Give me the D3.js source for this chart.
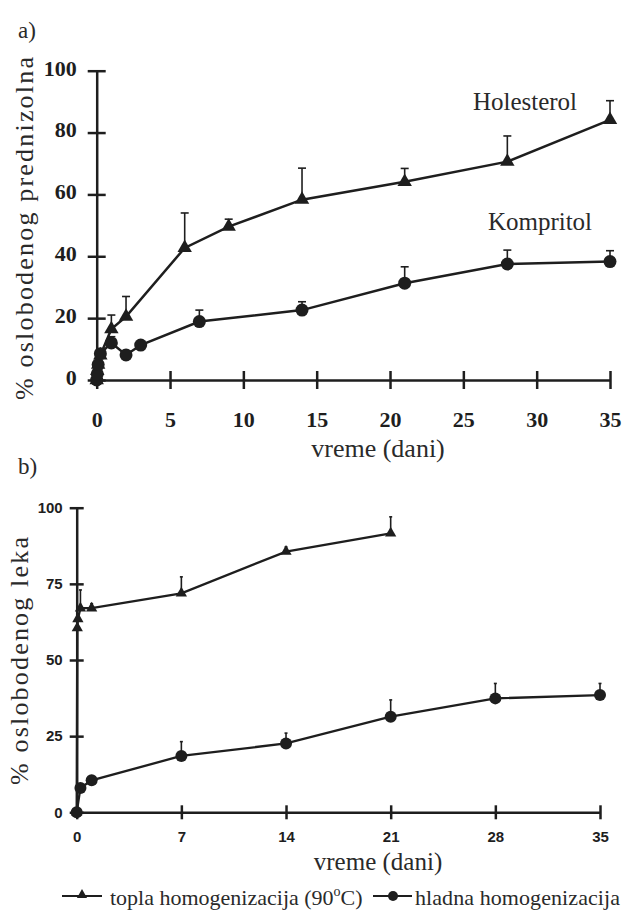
<!DOCTYPE html>
<html>
<head>
<meta charset="utf-8">
<script src="https://cdn.jsdelivr.net/npm/d3@7/dist/d3.min.js"></script>
<style>
  body { margin: 0; background: #fff; }
  svg { display: block; }
</style>
</head>
<body>
<svg width="624" height="920"></svg>
<script>
// ---- data ----

// panel a) holesterol (triangles) and kompritol (circles), days vs % released
var daysHol   = [0, 0.04, 0.1, 0.25, 1, 2, 6, 9, 14, 21, 28, 35];
var holMean   = [0, 3, 5, 8, 16.5, 20.5, 42.7, 49.6, 58.3, 64.1, 70.6, 84.1];
var holErr    = [0, 0, 0, 0, 4.5, 6.5, 11.3, 2.4, 10.2, 4.3, 8.3, 6.2];

var daysKomp  = [0, 0.04, 0.1, 0.25, 1, 2, 3, 7, 14, 21, 28, 35];
var kompMean  = [0, 2, 5, 8.5, 12, 8.1, 11.3, 18.9, 22.6, 31.3, 37.5, 38.3];
var kompErr   = [0, 0, 0, 0, 2, 0, 0, 3.7, 2.7, 5.3, 4.5, 3.5];

// panel b) topla (triangles) and hladna (circles) homogenizacija
var daysTopla = [0, 0.04, 0.08, 0.25, 1, 7, 14, 21];
var toplaMean = [0, 60.5, 63.5, 67, 67, 71.9, 85.6, 91.6];
var toplaErr  = [0, 0, 0, 6, 1.5, 5.4, 1.5, 5.4];

var daysHlad  = [0, 0.25, 1, 7, 14, 21, 28, 35];
var hladMean  = [0, 8, 10.5, 18.5, 22.6, 31.4, 37.4, 38.5];
var hladErr   = [0, 0, 0, 4.7, 3.4, 5.5, 4.9, 3.8];

var ticksA_x = [0, 5, 10, 15, 20, 25, 30, 35];
var ticksA_y = [0, 20, 40, 60, 80, 100];
var ticksB_x = [0, 7, 14, 21, 28, 35];
var ticksB_y = [0, 25, 50, 75, 100];

var svg = d3.select("svg");
var ink = "#1e1e1e";
var serifFont = "Liberation Serif";

function zip(xs, ys, es) {
    return xs.map(function (x, i) { return { x: x, y: ys[i], e: es[i] }; });
}

// draws one panel: axes, lines, error bars and markers
function drawPanel(cfg) {
    var x = d3.scaleLinear().domain([0, 35]).range(cfg.xRange);
    var y = d3.scaleLinear().domain([0, 100]).range(cfg.yRange);
    var g = svg.append("g");

    var yAxis = g.append("g")
        .attr("transform", "translate(" + cfg.xRange[0] + ",0)")
        .call(d3.axisLeft(y).tickValues(cfg.yTicks).tickSizeInner(cfg.tick)
            .tickSizeOuter(0).tickPadding(cfg.yPad));
    yAxis.selectAll(".tick line").attr("x1", cfg.tick);
    yAxis.selectAll(".tick text").attr("dy", cfg.yDy);

    var xAxis = g.append("g")
        .attr("transform", "translate(0," + cfg.yRange[0] + ")")
        .call(d3.axisBottom(x).tickValues(cfg.xTicks).tickSizeInner(cfg.tick)
            .tickSizeOuter(0).tickPadding(cfg.xPad));
    xAxis.selectAll(".tick line").attr("y1", -cfg.tick);

    [xAxis, yAxis].forEach(function (a) {
        a.attr("font-family", cfg.tickFont).attr("font-size", cfg.tickSize);
        a.select(".domain").attr("stroke", ink).attr("stroke-width", 2.5);
        a.selectAll(".tick line").attr("stroke", ink).attr("stroke-width", 2.5);
        a.selectAll(".tick text")
            .attr("fill", ink)
            .attr("font-weight", "bold");
    });

    var line = d3.line().x(function (d) { return x(d.x); }).y(function (d) { return y(d.y); });

    cfg.series.forEach(function (s) {
        var pts = s.data;
        g.append("path").datum(pts)
            .attr("d", line)
            .attr("fill", "none")
            .attr("stroke", ink)
            .attr("stroke-width", cfg.lw);

        var eb = pts.filter(function (d) { return d.e > 0; });
        g.selectAll(null).data(eb).enter().append("line")
            .attr("x1", function (d) { return x(d.x); })
            .attr("x2", function (d) { return x(d.x); })
            .attr("y1", function (d) { return y(d.y); })
            .attr("y2", function (d) { return y(d.y + d.e); })
            .attr("stroke", ink).attr("stroke-width", 1.6);
        g.selectAll(null).data(eb).enter().append("line")
            .attr("x1", function (d) { return x(d.x) - cfg.cap; })
            .attr("x2", function (d) { return x(d.x) + cfg.cap; })
            .attr("y1", function (d) { return y(d.y + d.e); })
            .attr("y2", function (d) { return y(d.y + d.e); })
            .attr("stroke", ink).attr("stroke-width", 1.6);

        if (s.shape === "tri") {
            g.selectAll(null).data(pts).enter().append("path")
                .attr("d", d3.symbol().type(d3.symbolTriangle).size(cfg.triSize))
                .attr("transform", function (d) { return "translate(" + x(d.x) + "," + y(d.y) + ")"; })
                .attr("fill", ink);
        } else {
            g.selectAll(null).data(pts).enter().append("circle")
                .attr("cx", function (d) { return x(d.x); })
                .attr("cy", function (d) { return y(d.y); })
                .attr("r", cfg.r)
                .attr("fill", ink);
        }
    });
}

drawPanel({
    xRange: [96.7, 610], yRange: [380, 70.7],
    xTicks: ticksA_x, yTicks: ticksA_y,
    tick: 9, yPad: 11, xPad: 22, yDy: "0.2em",
    tickFont: serifFont, tickSize: 22,
    cap: 4, triSize: 90, r: 6.5, lw: 2.5,
    series: [
        { shape: "tri", data: zip(daysHol, holMean, holErr) },
        { shape: "dot", data: zip(daysKomp, kompMean, kompErr) }
    ]
});

drawPanel({
    xRange: [76.7, 600], yRange: [812.3, 507.7],
    xTicks: ticksB_x, yTicks: ticksB_y,
    tick: 7, yPad: 7, xPad: 12, yDy: "0.32em",
    tickFont: "Liberation Sans", tickSize: 15,
    cap: 1.5, triSize: 55, r: 6, lw: 2.3,
    series: [
        { shape: "tri", data: zip(daysTopla, toplaMean, toplaErr) },
        { shape: "dot", data: zip(daysHlad, hladMean, hladErr) }
    ]
});

// ---- texts ----
function label(txt, x, y, size, opts) {
    opts = opts || {};
    var t = svg.append("text")
        .attr("x", x).attr("y", y)
        .attr("font-family", serifFont)
        .attr("font-size", size)
        .attr("fill", "#2a2a2a")
        .attr("text-anchor", opts.anchor || "start")
        .text(txt);
    if (opts.len) t.attr("textLength", opts.len).attr("lengthAdjust", "spacing");
    if (opts.rotate) t.attr("transform", "rotate(-90," + x + "," + y + ")");
    return t;
}

label("a)", 18, 38, 23);
label("b)", 18, 474, 23);
label("% oslobodenog prednizolna", 33, 228.5, 26, { anchor: "middle", rotate: true, len: 343 });
label("% oslobodenog leka", 28, 661, 26, { anchor: "middle", rotate: true, len: 248 });
label("Holesterol", 525, 110, 25, { anchor: "middle" });
label("Kompritol", 540, 230, 25, { anchor: "middle" });
label("vreme (dani)", 378, 457, 26, { anchor: "middle" });
label("vreme (dani)", 378, 870, 25, { anchor: "middle" });

// legend
var leg = svg.append("g");
leg.append("line").attr("x1", 62).attr("x2", 102).attr("y1", 896).attr("y2", 896)
    .attr("stroke", ink).attr("stroke-width", 2);
leg.append("path").attr("d", d3.symbol().type(d3.symbolTriangle).size(45)())
    .attr("transform", "translate(82,895)").attr("fill", ink);
var t1 = label("topla homogenizacija (90", 110, 905, 22);
t1.append("tspan").attr("dy", -9).attr("font-size", 14).text("o");
t1.append("tspan").attr("dy", 9).text("C)");
leg.append("line").attr("x1", 373).attr("x2", 412).attr("y1", 896).attr("y2", 896)
    .attr("stroke", ink).attr("stroke-width", 2);
leg.append("circle").attr("cx", 393).attr("cy", 896).attr("r", 5).attr("fill", ink);
label("hladna homogenizacija", 415, 905, 22, { len: 205 });
</script>
</body>
</html>
